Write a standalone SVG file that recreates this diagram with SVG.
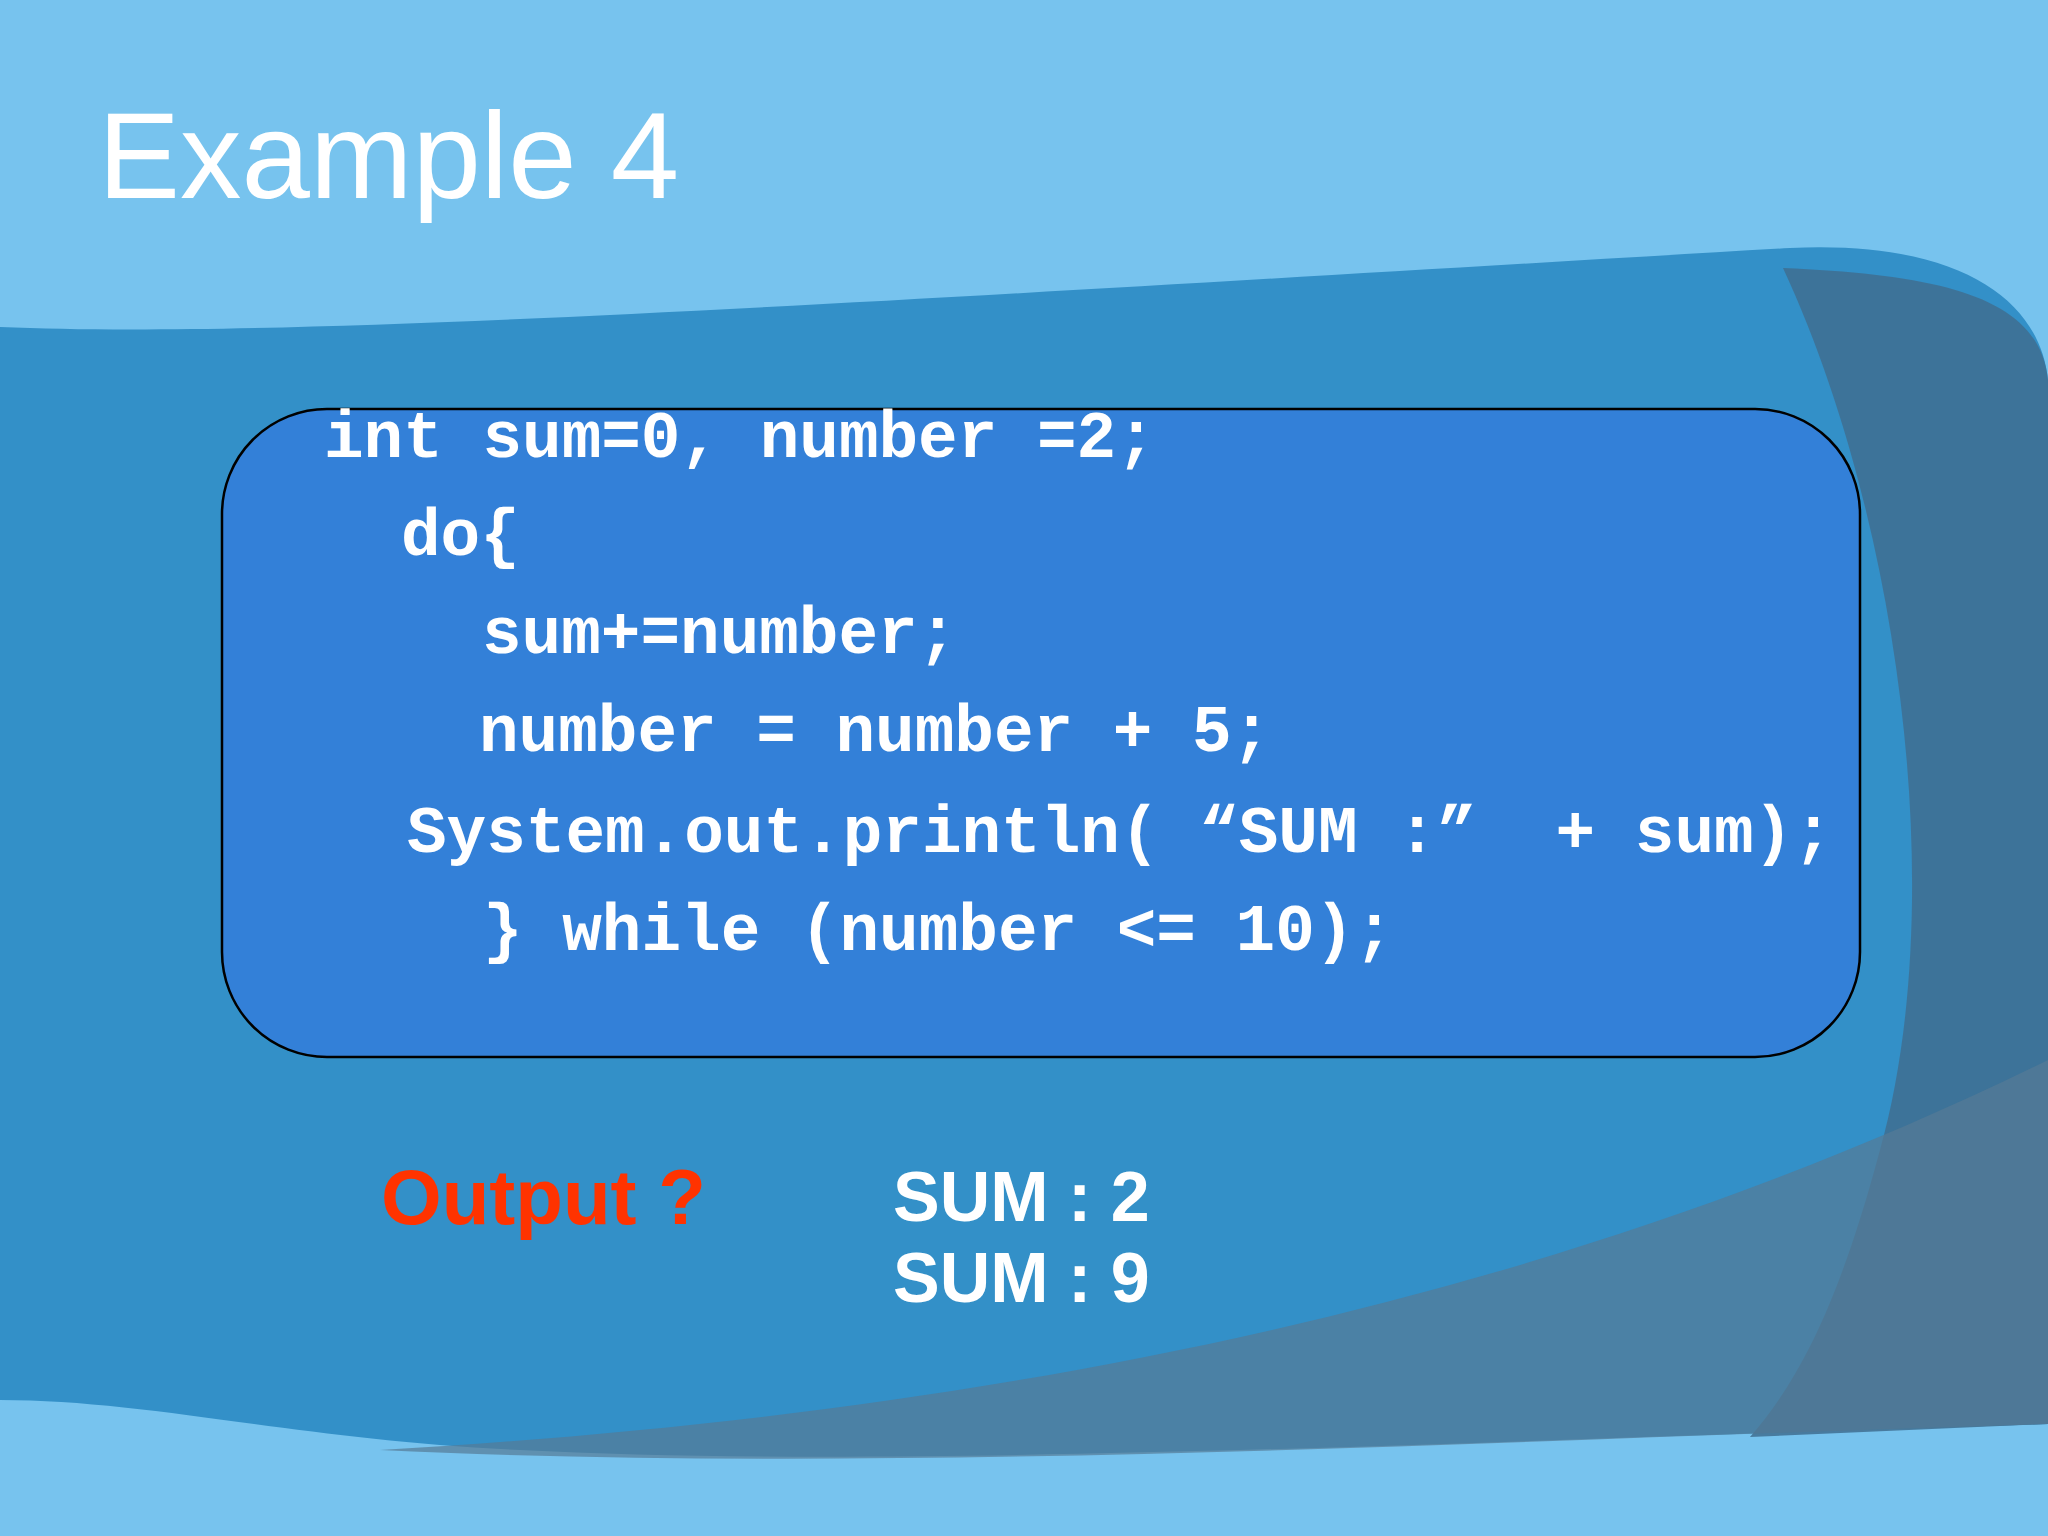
<svg xmlns="http://www.w3.org/2000/svg" width="2048" height="1536" viewBox="0 0 2048 1536">
<style>
.code{font-family:"Liberation Mono",monospace;font-weight:bold;font-size:66px;fill:#fff;white-space:pre}
.out{font-family:"Liberation Sans",Arial,sans-serif;font-weight:bold;font-size:70px;fill:#fff}
</style>
<rect width="2048" height="1536" fill="#77C3EE"/>
<g id="background">
<path d="M0,327 C300,340 900,300 1790,248 C1960,240 2040,300 2048,380 L2048,1424 C1500,1440 900,1470 520,1450 C300,1440 150,1400 0,1400 Z" fill="#3390C8"/>
<path d="M1783,268 C1900,520 1950,900 1880,1150 C1840,1300 1800,1380 1750,1437 L2048,1424 L2048,380 C2040,300 1950,275 1783,268 Z" fill="#3F6E90" opacity="0.85"/>
<path d="M380,1450 C900,1420 1500,1330 2048,1060 L2048,1424 C1500,1440 900,1475 380,1450 Z" fill="#557A95" opacity="0.7"/>
</g>
<text x="98" y="198" font-family="Liberation Sans,Arial,sans-serif" font-size="123" fill="#fff">Example 4</text>
<g id="codebox">
<rect x="222" y="409" width="1638" height="648" rx="105" fill="#3380D8" stroke="#000" stroke-width="2.5"/>
<text class="code" x="324" y="457">int sum=0, number =2;</text>
<text class="code" x="401" y="555">do{</text>
<text class="code" x="482" y="653">sum+=number;</text>
<text class="code" x="479" y="751">number = number + 5;</text>
<text class="code" x="407" y="852">System.out.println( “SUM :”  + sum);</text>
<text class="code" x="483" y="950">} while (number &lt;= 10);</text>
</g>
<g id="output">
<text x="381" y="1224" font-family="Liberation Sans,Arial,sans-serif" font-weight="bold" font-size="78" fill="#FF3300">Output ?</text>
<text class="out" x="893" y="1221">SUM : 2</text>
<text class="out" x="893" y="1302">SUM : 9</text>
</g>
</svg>
